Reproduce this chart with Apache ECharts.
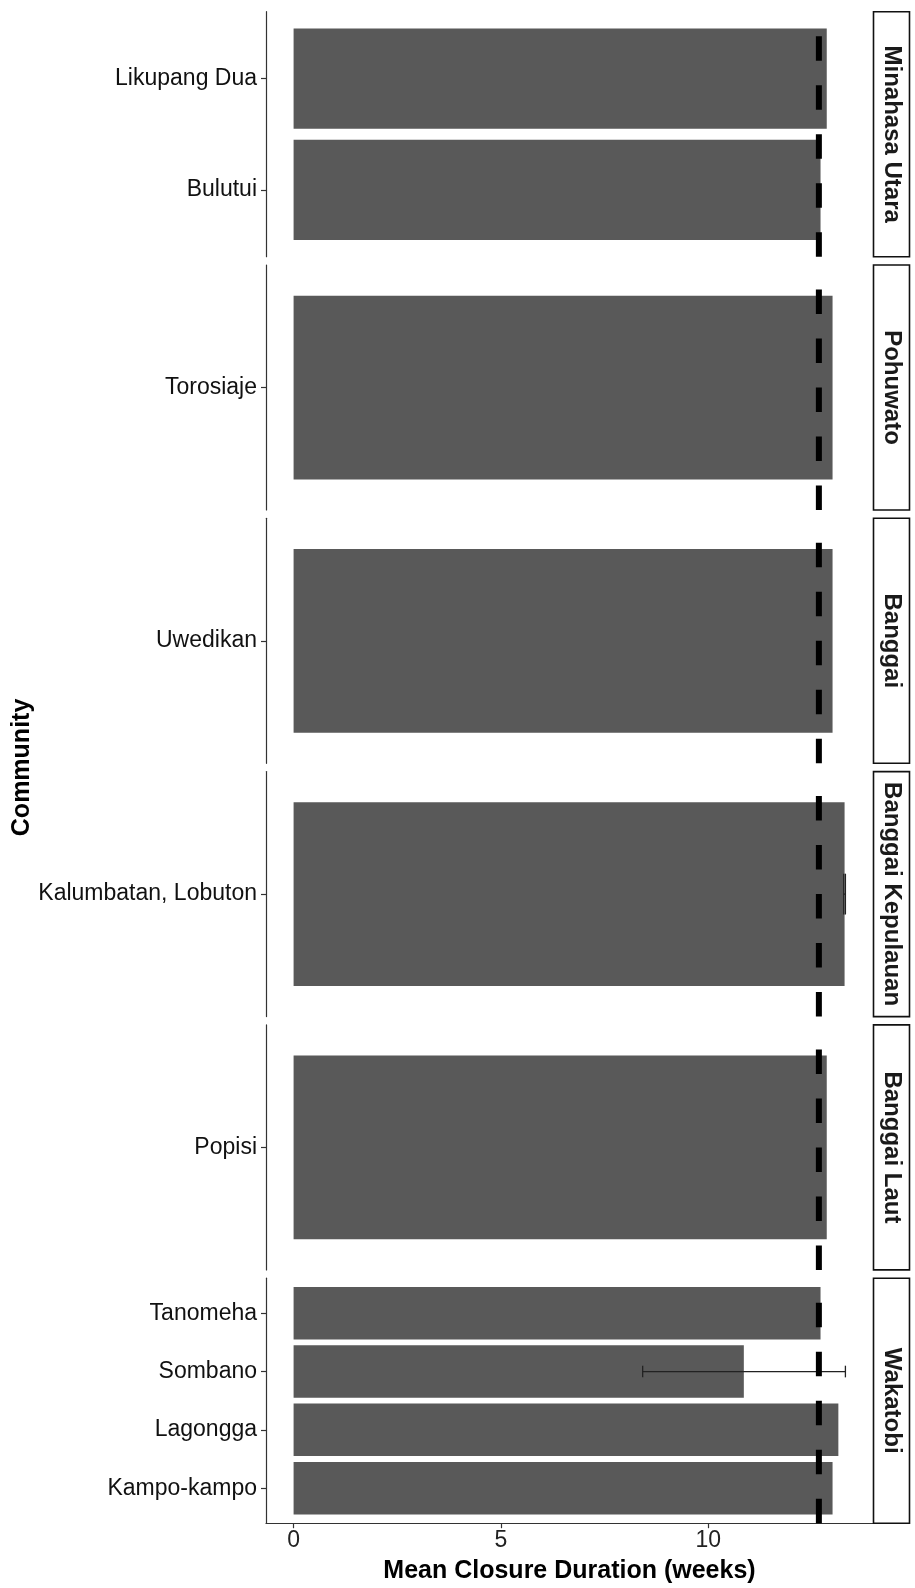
<!DOCTYPE html>
<html>
<head>
<meta charset="utf-8">
<title>Mean Closure Duration by Community</title>
<script src="https://cdn.jsdelivr.net/npm/echarts@6/dist/echarts.min.js"></script>
<style>
  html, body { margin: 0; padding: 0; background: #ffffff; }
  #chart { width: 915px; height: 1588px; }
</style>
</head>
<body>
<div id="chart"></div>
<script>
// Regencies (facet rows), top to bottom
const regions = ['Minahasa Utara', 'Pohuwato', 'Banggai', 'Banggai Kepulauan', 'Banggai Laut', 'Wakatobi'];

// Communities in each regency, listed bottom to top
const communities = [
  ['Bulutui', 'Likupang Dua'],
  ['Torosiaje'],
  ['Uwedikan'],
  ['Kalumbatan, Lobuton'],
  ['Popisi'],
  ['Kampo-kampo', 'Lagongga', 'Sombano', 'Tanomeha']
];

// Mean closure duration (weeks), same order as communities
const meanWeeks = [
  [12.71, 12.86],
  [13.0],
  [13.0],
  [13.29],
  [12.86],
  [13.0, 13.14, 10.86, 12.71]
];

// Error bar ends (weeks); null where no spread is reported
const errLow = [
  [null, null],
  [null],
  [null],
  [13.27],
  [null],
  [null, null, 8.42, null]
];
const errHigh = [
  [null, null],
  [null],
  [null],
  [13.31],
  [null],
  [null, null, 13.31, null]
];

// Overall mean closure duration (dashed reference line)
const overallMean = 12.67;

// x-axis tick values
const xTicks = [0, 5, 10];

// ---- layout ----
const PANEL_LEFT = 266;
const PANEL_RIGHT = 873;
const PANEL_TOP = 11.7;
const PANEL_H = 245;
const PANEL_GAP = 8.3;
const STRIP_W = 36;
const FONT = '"Liberation Sans", Arial, sans-serif';
const BAR_COLOR = '#595959';
const AXIS_COLOR = '#333333';

// x range with 5% padding on each side of [0, data max]
let dataMax = 0;
meanWeeks.forEach(r => r.forEach(v => { dataMax = Math.max(dataMax, v); }));
errHigh.forEach(r => r.forEach(v => { if (v != null) dataMax = Math.max(dataMax, v); }));
const pad = dataMax * 0.05;
const xMin = -pad;
const xMax = dataMax + pad;

const grids = [];
const xAxes = [];
const yAxes = [];
const series = [];
const graphics = [];

regions.forEach((region, i) => {
  const names = communities[i];
  const n = names.length;
  const top = PANEL_TOP + i * (PANEL_H + PANEL_GAP);
  const isLast = i === regions.length - 1;
  const positions = names.map((_, k) => k + 1);

  grids.push({
    left: PANEL_LEFT,
    top: top,
    width: PANEL_RIGHT - PANEL_LEFT,
    height: PANEL_H,
    containLabel: false
  });

  xAxes.push({
    type: 'value',
    gridIndex: i,
    min: xMin,
    max: xMax,
    show: isLast,
    splitLine: { show: false },
    axisLine: { show: true, onZero: false, lineStyle: { color: AXIS_COLOR, width: 1.2 } },
    axisTick: { show: true, length: 5, customValues: xTicks, lineStyle: { color: AXIS_COLOR, width: 1.2 } },
    axisLabel: {
      customValues: xTicks,
      fontSize: 23,
      fontFamily: FONT,
      color: '#222222',
      margin: 6
    },
    name: isLast ? 'Mean Closure Duration (weeks)' : '',
    nameLocation: 'middle',
    nameGap: 35,
    nameTextStyle: {
      fontSize: 25,
      fontWeight: 'bold',
      fontFamily: FONT,
      color: '#000000',
      verticalAlign: 'top'
    }
  });

  yAxes.push({
    type: 'value',
    gridIndex: i,
    min: 0.4,
    max: n + 0.6,
    splitLine: { show: false },
    axisLine: { show: true, onZero: false, lineStyle: { color: AXIS_COLOR, width: 1.2 } },
    axisTick: { show: true, length: 5, customValues: positions, lineStyle: { color: AXIS_COLOR, width: 1.2 } },
    axisLabel: {
      customValues: positions,
      formatter: v => names[Math.round(v) - 1] || '',
      fontSize: 23,
      fontFamily: FONT,
      color: '#111111',
      margin: 9
    }
  });

  // bars
  series.push({
    type: 'custom',
    xAxisIndex: i,
    yAxisIndex: i,
    z: 2,
    data: meanWeeks[i].map((v, k) => [v, k + 1]),
    renderItem: (params, api) => {
      const val = api.value(0);
      const pos = api.value(1);
      const p0 = api.coord([0, pos - 0.45]);
      const p1 = api.coord([val, pos + 0.45]);
      return {
        type: 'rect',
        shape: { x: p0[0], y: p1[1], width: p1[0] - p0[0], height: p0[1] - p1[1] },
        style: { fill: BAR_COLOR }
      };
    }
  });

  // error bars
  const errData = [];
  errLow[i].forEach((lo, k) => {
    const hi = errHigh[i][k];
    if (lo != null && hi != null) errData.push([lo, hi, k + 1]);
  });
  series.push({
    type: 'custom',
    xAxisIndex: i,
    yAxisIndex: i,
    z: 3,
    data: errData,
    renderItem: (params, api) => {
      const lo = api.value(0);
      const hi = api.value(1);
      const pos = api.value(2);
      const a = api.coord([lo, pos]);
      const b = api.coord([hi, pos]);
      const aT = api.coord([lo, pos + 0.1]);
      const aB = api.coord([lo, pos - 0.1]);
      const bT = api.coord([hi, pos + 0.1]);
      const bB = api.coord([hi, pos - 0.1]);
      const st = { stroke: '#222222', lineWidth: 1.3 };
      return {
        type: 'group',
        children: [
          { type: 'line', shape: { x1: a[0], y1: a[1], x2: b[0], y2: b[1] }, style: st },
          { type: 'line', shape: { x1: aT[0], y1: aT[1], x2: aB[0], y2: aB[1] }, style: st },
          { type: 'line', shape: { x1: bT[0], y1: bT[1], x2: bB[0], y2: bB[1] }, style: st }
        ]
      };
    }
  });

  // dashed overall-mean line, drawn bottom to top across the panel
  series.push({
    type: 'line',
    xAxisIndex: i,
    yAxisIndex: i,
    z: 4,
    symbol: 'none',
    silent: true,
    data: [[overallMean, 0.4], [overallMean, n + 0.6]],
    lineStyle: { color: '#000000', width: 6, type: [24.5, 24.5], cap: 'butt' }
  });

  // facet strip on the right
  graphics.push({
    type: 'rect',
    shape: { x: PANEL_RIGHT + 0.5, y: top, width: STRIP_W, height: PANEL_H },
    style: { fill: '#ffffff', stroke: '#111111', lineWidth: 1.6 },
    z: 10
  });
  graphics.push({
    type: 'text',
    x: PANEL_RIGHT + 0.5 + STRIP_W / 2,
    y: top + PANEL_H / 2,
    rotation: -Math.PI / 2,
    style: {
      text: region,
      fontSize: 24,
      fontWeight: 'bold',
      fontFamily: FONT,
      fill: '#1a1a1a',
      align: 'center',
      verticalAlign: 'middle'
    },
    z: 11
  });
});

// y-axis title
graphics.push({
  type: 'text',
  x: 22,
  y: PANEL_TOP + (regions.length * PANEL_H + (regions.length - 1) * PANEL_GAP) / 2,
  rotation: Math.PI / 2,
  style: {
    text: 'Community',
    fontSize: 25,
    fontWeight: 'bold',
    fontFamily: FONT,
    fill: '#000000',
    align: 'center',
    verticalAlign: 'middle'
  },
  z: 11
});

const chart = echarts.init(document.getElementById('chart'), null, { renderer: 'canvas' });
chart.setOption({
  backgroundColor: '#ffffff',
  animation: false,
  grid: grids,
  xAxis: xAxes,
  yAxis: yAxes,
  series: series,
  graphic: graphics
});
</script>
</body>
</html>
